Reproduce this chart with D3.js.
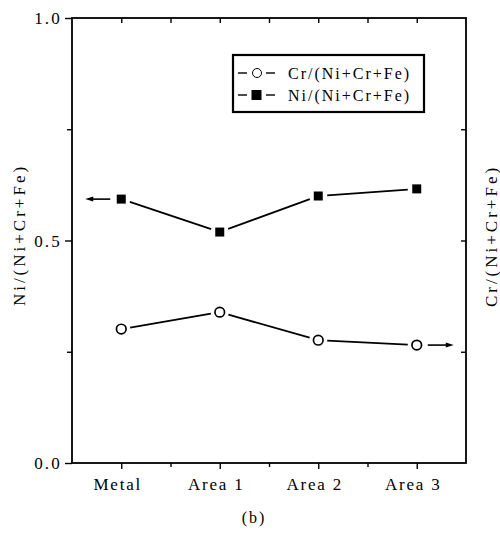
<!DOCTYPE html>
<html>
<head>
<meta charset="utf-8">
<script src="https://cdn.jsdelivr.net/npm/d3@7"></script>
<style>
body{margin:0;background:#fff;}
text{font-family:"Liberation Serif","Times New Roman",serif;fill:#000;}
</style>
</head>
<body>
<svg id="chart" width="500" height="533"></svg>
<script>
const categories = ["Metal", "Area 1", "Area 2", "Area 3"];
const niValues = [0.593, 0.519, 0.600, 0.616];
const crValues = [0.301, 0.339, 0.276, 0.265];
const yTickValues = [0.0, 0.5, 1.0];
const yTickLabels = ["0.0", "0.5", "1.0"];
const yMinorTicks = [0.25, 0.75];
const legendLabels = ["Cr/(Ni+Cr+Fe)", "Ni/(Ni+Cr+Fe)"];
const yLabelLeft = "Ni/(Ni+Cr+Fe)";
const yLabelRight = "Cr/(Ni+Cr+Fe)";
const caption = "(b)";

const svg = d3.select("#chart");
const L = 72, R = 466, T = 18, B = 463;
const x = d3.scaleLinear().domain([-0.5, 3.5]).range([L, R]);
const y = d3.scaleLinear().domain([0, 1]).range([B, T]);
const idx = categories.map((d, i) => i);
const halfIdx = [0, 1, 2, 3, 4].map(i => i - 0.5).filter(v => v > -0.5 && v < 3.5);

// frame
svg.append("rect").attr("x", L).attr("y", T).attr("width", R - L).attr("height", B - T)
  .attr("fill", "none").attr("stroke", "#000").attr("stroke-width", 1.8);

// left axis (outward ticks)
const gL = svg.append("g").attr("transform", `translate(${L},0)`);
gL.call(d3.axisLeft(y).tickValues(yTickValues).tickFormat((d, i) => yTickLabels[i]).tickSize(7).tickPadding(3));
gL.append("g").call(d3.axisLeft(y).tickValues(yMinorTicks).tickFormat("").tickSize(5));
gL.selectAll(".domain").remove();
gL.selectAll("line").attr("stroke", "#000").attr("stroke-width", 1.4);
gL.selectAll("text").style("font-size", "17px").style("letter-spacing", "2.2px")
  .attr("dy", "0.35em");

// right axis (inward ticks)
const gR = svg.append("g").attr("transform", `translate(${R},0)`);
gR.call(d3.axisRight(y).tickValues([0.25, 0.5, 0.75]).tickFormat("").tickSize(-5));
gR.selectAll(".domain").remove();
gR.selectAll("line").attr("stroke", "#000").attr("stroke-width", 1.4);

// bottom axis (outward)
const gB = svg.append("g").attr("transform", `translate(0,${B})`);
gB.call(d3.axisBottom(x).tickValues(idx).tickFormat((d, i) => categories[i]).tickSize(6).tickPadding(9));
gB.append("g").call(d3.axisBottom(x).tickValues(halfIdx).tickFormat("").tickSize(4));
gB.selectAll(".domain").remove();
gB.selectAll("line").attr("stroke", "#000").attr("stroke-width", 1.4);
gB.selectAll("text").style("font-size", "17px").style("letter-spacing", "1.8px")
  .attr("dx", "-4");

// top axis (inward)
const gT = svg.append("g").attr("transform", `translate(0,${T})`);
gT.call(d3.axisTop(x).tickValues(idx.concat(halfIdx)).tickFormat("").tickSize(-5));
gT.selectAll(".domain").remove();
gT.selectAll("line").attr("stroke", "#000").attr("stroke-width", 1.4);

// series lines with gaps at markers
function drawSeries(vals, gap) {
  const pts = vals.map((v, i) => [x(i), y(v)]);
  for (let i = 0; i < pts.length - 1; i++) {
    const [x1, y1] = pts[i], [x2, y2] = pts[i + 1];
    const dx = x2 - x1, dy = y2 - y1, len = Math.hypot(dx, dy);
    const ux = dx / len, uy = dy / len;
    svg.append("line")
      .attr("x1", x1 + ux * gap).attr("y1", y1 + uy * gap)
      .attr("x2", x2 - ux * gap).attr("y2", y2 - uy * gap)
      .attr("stroke", "#000").attr("stroke-width", 1.8);
  }
}
drawSeries(niValues, 9);
drawSeries(crValues, 9);

// markers
svg.selectAll(".sq").data(niValues).enter().append("rect")
  .attr("x", (d, i) => x(i) - 4.5).attr("y", d => y(d) - 4.5)
  .attr("width", 9).attr("height", 9).attr("fill", "#000");
svg.selectAll(".ci").data(crValues).enter().append("circle")
  .attr("cx", (d, i) => x(i)).attr("cy", d => y(d)).attr("r", 4.8)
  .attr("fill", "#fff").attr("stroke", "#000").attr("stroke-width", 1.7);

// arrows
function arrow(x1, x2, yy) {
  const dir = Math.sign(x2 - x1);
  svg.append("line").attr("x1", x1).attr("y1", yy).attr("x2", x2 - dir * 5).attr("y2", yy)
    .attr("stroke", "#000").attr("stroke-width", 1.6);
  svg.append("path")
    .attr("d", `M${x2},${yy} L${x2 - dir * 8},${yy - 2.5} L${x2 - dir * 8},${yy + 2.5} Z`)
    .attr("fill", "#000");
}
arrow(x(0) - 11, x(0) - 36, y(niValues[0]));
arrow(x(3) + 11, x(3) + 37, y(crValues[3]));

// legend
const lg = svg.append("g");
lg.append("rect").attr("x", 233).attr("y", 55).attr("width", 191).attr("height", 57)
  .attr("fill", "#fff").attr("stroke", "#000").attr("stroke-width", 2.2);
const rowsY = [73, 95];
legendLabels.forEach((lab, i) => {
  const ry = rowsY[i];
  lg.append("line").attr("x1", 238).attr("x2", 247).attr("y1", ry).attr("y2", ry)
    .attr("stroke", "#000").attr("stroke-width", 1.4);
  lg.append("line").attr("x1", 266).attr("x2", 275).attr("y1", ry).attr("y2", ry)
    .attr("stroke", "#000").attr("stroke-width", 1.4);
  if (i === 0) {
    lg.append("circle").attr("cx", 257).attr("cy", ry).attr("r", 4.5)
      .attr("fill", "#fff").attr("stroke", "#000").attr("stroke-width", 1);
  } else {
    lg.append("rect").attr("x", 251.5).attr("y", ry - 5).attr("width", 10).attr("height", 10).attr("fill", "#000");
  }
  lg.append("text").attr("x", 288).attr("y", ry).attr("dy", "0.35em")
    .style("font-size", "16px").style("letter-spacing", "2px").text(lab);
});

// axis titles
svg.append("text").attr("transform", "translate(19,235) rotate(-90)")
  .attr("text-anchor", "middle").attr("dy", "0.35em")
  .style("font-size", "17px").style("letter-spacing", "3px").text(yLabelLeft);
svg.append("text").attr("transform", "translate(491,236) rotate(-90)")
  .attr("text-anchor", "middle").attr("dy", "0.35em")
  .style("font-size", "17px").style("letter-spacing", "3px").text(yLabelRight);

svg.append("text").attr("x", 254).attr("y", 523).attr("text-anchor", "middle")
  .style("font-size", "16px").style("letter-spacing", "2px").text(caption);
</script>
</body>
</html>
